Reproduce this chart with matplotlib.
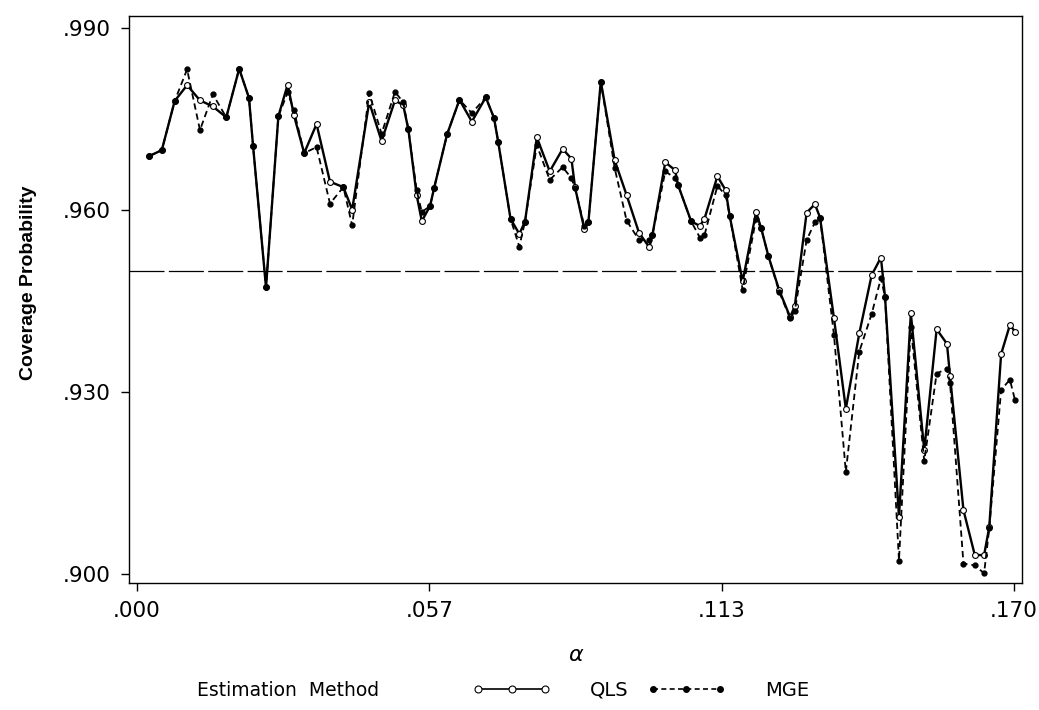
import matplotlib
matplotlib.use("Agg")
import matplotlib.pyplot as plt
from matplotlib.lines import Line2D

plt.rcParams['font.family'] = ['DejaVu Sans']

# alpha grid shared by both estimators
alpha = [0.0023, 0.0048, 0.0073, 0.0097, 0.0122, 0.0147, 0.0173, 0.0198,
         0.0217, 0.0225, 0.0250, 0.0274, 0.0292, 0.0304, 0.0324, 0.0348,
         0.0374, 0.0400, 0.0417, 0.0450, 0.0474, 0.0500, 0.0516, 0.0526,
         0.0542, 0.0552, 0.0568, 0.0576, 0.0601, 0.0625, 0.0649, 0.0676,
         0.0692, 0.0700, 0.0724, 0.0741, 0.0752, 0.0775, 0.0800, 0.0825,
         0.0842, 0.0849, 0.0867, 0.0875, 0.0899, 0.0926, 0.0949, 0.0973,
         0.0993, 0.0999, 0.1024, 0.1043, 0.1049, 0.1074, 0.1091, 0.1100,
         0.1125, 0.1141, 0.1149, 0.1174, 0.1200, 0.1210, 0.1224, 0.1245,
         0.1266, 0.1275, 0.1298, 0.1314, 0.1324, 0.1351, 0.1374, 0.1400,
         0.1424, 0.1442, 0.1450, 0.1477, 0.1500, 0.1526, 0.1550, 0.1570,
         0.1576, 0.1602, 0.1624, 0.1642, 0.1652, 0.1675, 0.1692, 0.1702]

qls = [0.9689, 0.9699, 0.9780, 0.9806, 0.9781, 0.9771, 0.9753, 0.9833,
       0.9785, 0.9705, 0.9473, 0.9755, 0.9807, 0.9757, 0.9694, 0.9742,
       0.9647, 0.9638, 0.9601, 0.9778, 0.9714, 0.9781, 0.9773, 0.9733,
       0.9625, 0.9582, 0.9607, 0.9637, 0.9725, 0.9782, 0.9746, 0.9786,
       0.9752, 0.9713, 0.9586, 0.9561, 0.9581, 0.9720, 0.9664, 0.9701,
       0.9685, 0.9638, 0.9569, 0.9581, 0.9812, 0.9682, 0.9625, 0.9563,
       0.9539, 0.9559, 0.9679, 0.9666, 0.9641, 0.9582, 0.9574, 0.9586,
       0.9656, 0.9633, 0.9590, 0.9483, 0.9597, 0.9570, 0.9524, 0.9468,
       0.9424, 0.9442, 0.9596, 0.9610, 0.9588, 0.9422, 0.9273, 0.9397,
       0.9493, 0.9522, 0.9457, 0.9095, 0.9430, 0.9205, 0.9404, 0.9380,
       0.9327, 0.9106, 0.9032, 0.9032, 0.9078, 0.9363, 0.9411, 0.9400]

mge = [0.9689, 0.9699, 0.9780, 0.9832, 0.9732, 0.9791, 0.9753, 0.9833,
       0.9785, 0.9705, 0.9473, 0.9755, 0.9794, 0.9765, 0.9694, 0.9704,
       0.9611, 0.9638, 0.9575, 0.9793, 0.9726, 0.9795, 0.9778, 0.9733,
       0.9633, 0.9597, 0.9607, 0.9637, 0.9725, 0.9782, 0.9760, 0.9786,
       0.9752, 0.9713, 0.9586, 0.9540, 0.9581, 0.9707, 0.9650, 0.9671,
       0.9653, 0.9636, 0.9574, 0.9581, 0.9812, 0.9669, 0.9583, 0.9551,
       0.9551, 0.9559, 0.9664, 0.9653, 0.9641, 0.9582, 0.9555, 0.9559,
       0.9640, 0.9625, 0.9590, 0.9469, 0.9586, 0.9570, 0.9524, 0.9465,
       0.9422, 0.9434, 0.9551, 0.9580, 0.9588, 0.9394, 0.9169, 0.9367,
       0.9429, 0.9488, 0.9457, 0.9023, 0.9408, 0.9187, 0.9331, 0.9339,
       0.9315, 0.9018, 0.9015, 0.9002, 0.9076, 0.9304, 0.9321, 0.9287]

nominal = 0.95
xticks = [0.0, 0.17 / 3, 0.34 / 3, 0.17]
xtick_labels = ['.000', '.057', '.113', '.170']
yticks = [0.90, 0.93, 0.96, 0.99]
ytick_labels = ['.900', '.930', '.960', '.990']

fig = plt.figure(figsize=(10.39, 7.10), dpi=100)
ax = fig.add_axes([0.1242, 0.1789, 0.8592, 0.7986])

ax.axhline(nominal, color='black', lw=0.9, dashes=(28, 3.5))
ax.plot(alpha, qls, color='black', lw=1.7, marker='o', ms=4.2,
        mfc='white', mec='black', mew=0.8)
ax.plot(alpha, mge, color='black', lw=1.3, dashes=(3.5, 2.2),
        marker='o', ms=3.5, mfc='black', mec='black')

ax.set_xlim(-0.00155, 0.1715)
ax.set_ylim(0.8986, 0.9920)
ax.set_xticks(xticks)
ax.set_xticklabels(xtick_labels)
ax.set_yticks(yticks)
ax.set_yticklabels(ytick_labels)
ax.tick_params(direction='out', length=6, width=1, labelsize=15.5, pad=7)
for s in ax.spines.values():
    s.set_linewidth(1.0)

ax.set_ylabel('Coverage Probability', fontsize=14, fontweight='bold',
              family=['Liberation Sans Narrow', 'Liberation Sans'])
ax.yaxis.set_label_coords(-0.103, 0.53)
fig.text(0.555, 1 - 655 / 710, r'$\alpha$', fontsize=16, ha='center',
         va='center')

# legend row
fig.text(0.19, 1 - 690 / 710, 'Estimation  Method', fontsize=13.5,
         ha='left', va='center')
h_qls = Line2D([], [], color='black', lw=1.2, marker='o', ms=5,
               mfc='white', mec='black', mew=0.8)
h_mge = Line2D([], [], color='black', lw=1.2, dashes=(3, 2), marker='o',
               ms=4, mfc='black', mec='black')
fig.legend([h_qls, h_mge], ['QLS', 'MGE'], ncol=2, loc='center',
           bbox_to_anchor=(0.6165, 1 - 690 / 710), frameon=False,
           numpoints=3, fontsize=14, handlelength=4.05, handletextpad=2.0,
           columnspacing=0.95)

fig.savefig('out.png', dpi=100)
